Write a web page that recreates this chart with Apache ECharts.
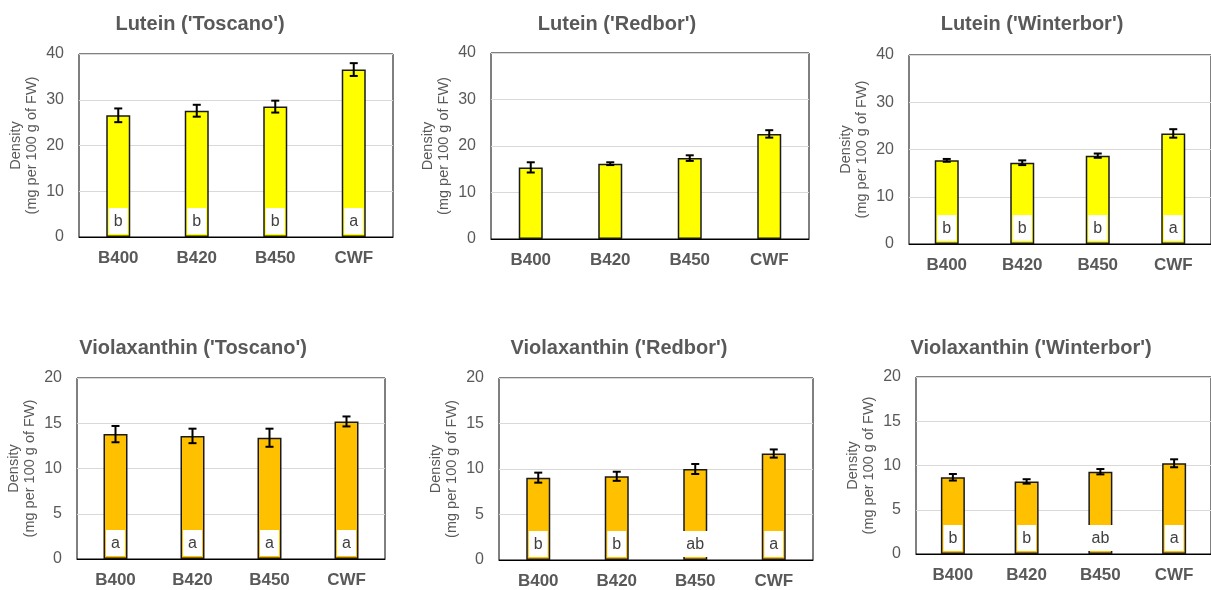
<!DOCTYPE html>
<html>
<head>
<meta charset="utf-8">
<title>Lutein / Violaxanthin</title>
<script src="https://cdn.jsdelivr.net/npm/echarts@6/dist/echarts.min.js"></script>
</head>
<body style="margin:0;background:#fff;">
<div id="main" style="width:1211px;height:590px;"></div>
<script type="text/javascript">
var categories = ['B400', 'B420', 'B450', 'CWF'];

var luteinToscano = [26.6, 27.6, 28.5, 36.6];
var luteinToscanoErr = [1.5, 1.3, 1.3, 1.4];
var luteinToscanoLetters = ['b', 'b', 'b', 'a'];

var luteinRedbor = [15.4, 16.2, 17.4, 22.6];
var luteinRedborErr = [1.1, 0.3, 0.6, 0.8];
var luteinRedborLetters = ['', '', '', ''];

var luteinWinterbor = [17.7, 17.2, 18.7, 23.4];
var luteinWinterborErr = [0.3, 0.5, 0.45, 0.9];
var luteinWinterborLetters = ['b', 'b', 'b', 'a'];

var violaToscano = [13.8, 13.6, 13.4, 15.2];
var violaToscanoErr = [0.9, 0.8, 1.0, 0.55];
var violaToscanoLetters = ['a', 'a', 'a', 'a'];

var violaRedbor = [9.05, 9.2, 10.0, 11.7];
var violaRedborErr = [0.55, 0.5, 0.55, 0.45];
var violaRedborLetters = ['b', 'b', 'ab', 'a'];

var violaWinterbor = [8.67, 8.2, 9.3, 10.25];
var violaWinterborErr = [0.37, 0.25, 0.3, 0.45];
var violaWinterborLetters = ['b', 'b', 'ab', 'a'];

var panels = [
    {title: "Lutein ('Toscano')", values: luteinToscano, errs: luteinToscanoErr, letters: luteinToscanoLetters, max: 40, interval: 10, color: '#FFFF00'},
    {title: "Lutein ('Redbor')", values: luteinRedbor, errs: luteinRedborErr, letters: luteinRedborLetters, max: 40, interval: 10, color: '#FFFF00'},
    {title: "Lutein ('Winterbor')", values: luteinWinterbor, errs: luteinWinterborErr, letters: luteinWinterborLetters, max: 40, interval: 10, color: '#FFFF00'},
    {title: "Violaxanthin ('Toscano')", values: violaToscano, errs: violaToscanoErr, letters: violaToscanoLetters, max: 20, interval: 5, color: '#FFC000'},
    {title: "Violaxanthin ('Redbor')", values: violaRedbor, errs: violaRedborErr, letters: violaRedborLetters, max: 20, interval: 5, color: '#FFC000'},
    {title: "Violaxanthin ('Winterbor')", values: violaWinterbor, errs: violaWinterborErr, letters: violaWinterborLetters, max: 20, interval: 5, color: '#FFC000'}
];

// plot boxes and title centres
var layout = [
    {left: 79, top: 54, width: 314, height: 183, tx: 200, ty: 24},
    {left: 491, top: 53, width: 318, height: 186, tx: 617, ty: 24},
    {left: 909, top: 55, width: 312, height: 189, tx: 1032, ty: 24},
    {left: 77, top: 378, width: 308, height: 181, tx: 193, ty: 348},
    {left: 499, top: 378, width: 314, height: 185, tx: 619, ty: 348},
    {left: 916, top: 377, width: 302, height: 177, tx: 1031, ty: 348}
];

var FONT = '"Liberation Sans", Arial, sans-serif';
var GREY = '#595959';

function errRender(params, api) {
    var x = api.value(0);
    var v = api.value(1);
    var e = api.value(2);
    var hi = api.coord([x, v + e]);
    var lo = api.coord([x, v - e]);
    var w = 4;
    var st = {stroke: '#000', lineWidth: 2};
    return {
        type: 'group',
        children: [
            {type: 'line', shape: {x1: hi[0], y1: hi[1], x2: lo[0], y2: lo[1]}, style: st},
            {type: 'line', shape: {x1: hi[0] - w, y1: hi[1], x2: hi[0] + w, y2: hi[1]}, style: st},
            {type: 'line', shape: {x1: lo[0] - w, y1: lo[1], x2: lo[0] + w, y2: lo[1]}, style: st}
        ]
    };
}

var grids = [], xAxes = [], yAxes = [], series = [], texts = [];

for (var i = 0; i < panels.length; ++i) {
    var p = panels[i];
    var l = layout[i];
    grids.push({
        left: l.left, top: l.top, width: l.width, height: l.height,
        show: true, borderColor: '#000', borderWidth: 1, backgroundColor: 'transparent'
    });
    xAxes.push({
        type: 'category', gridIndex: i, data: categories,
        axisLine: {lineStyle: {color: '#000', width: 1}},
        axisTick: {show: false},
        axisLabel: {color: GREY, fontSize: 17, fontWeight: 'bold', fontFamily: FONT, margin: 13}
    });
    yAxes.push({
        type: 'value', gridIndex: i, min: 0, max: p.max, interval: p.interval,
        name: 'Density\n(mg per 100 g of FW)',
        nameLocation: 'middle', nameGap: 39,
        nameTextStyle: {color: GREY, fontSize: 14.5, fontFamily: FONT, lineHeight: 16},
        axisLine: {show: false},
        axisTick: {show: false},
        axisLabel: {color: GREY, fontSize: 16, fontFamily: FONT, margin: 15},
        splitLine: {lineStyle: {color: '#d9d9d9', width: 1}}
    });
    var barData = [];
    for (var k = 0; k < p.values.length; ++k) {
        var item = {value: p.values[k], letter: p.letters[k]};
        if (!p.letters[k]) {
            item.label = {show: false};
        }
        barData.push(item);
    }
    series.push({
        type: 'bar', xAxisIndex: i, yAxisIndex: i,
        data: barData, barWidth: 24,
        itemStyle: {color: p.color, borderColor: '#1a1a1a', borderWidth: 1.5},
        label: {
            show: true, position: 'insideBottom', distance: 3,
            formatter: function (d) { return d.data.letter; },
            backgroundColor: '#fff', padding: [4, 5, 3, 5],
            color: '#404040', fontSize: 16, fontFamily: FONT, lineHeight: 19
        },
        silent: true
    });
    var ed = [];
    for (var j = 0; j < p.values.length; ++j) {
        ed.push([j, p.values[j], p.errs[j]]);
    }
    series.push({
        type: 'custom', xAxisIndex: i, yAxisIndex: i,
        renderItem: errRender, data: ed,
        encode: {x: 0, y: 1}, z: 5, silent: true
    });
    texts.push({
        type: 'text', x: l.tx, y: l.ty,
        style: {
            text: p.title, fill: GREY, align: 'center', verticalAlign: 'middle',
            font: 'bold 20px ' + FONT
        }
    });
}

var myChart = echarts.init(document.getElementById('main'));
myChart.setOption({
    animation: false,
    grid: grids,
    xAxis: xAxes,
    yAxis: yAxes,
    series: series,
    graphic: texts
});
</script>
</body>
</html>
